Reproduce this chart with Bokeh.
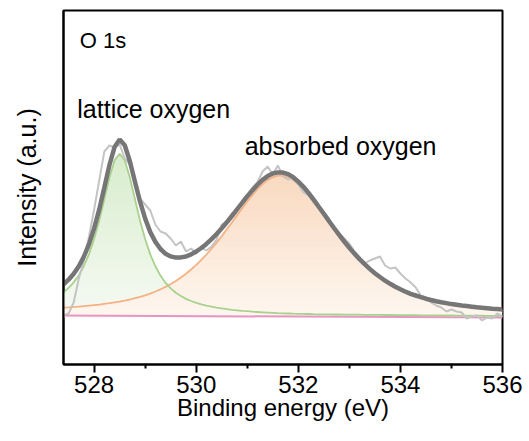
import numpy as np
from bokeh.plotting import figure
from bokeh.models import Range1d, FixedTicker, Label
from bokeh.embed import file_html
from bokeh.resources import INLINE

# ---------------- data ----------------
energy = [527.4, 527.5, 527.6, 527.7, 527.8, 527.9,
          528.0, 528.1, 528.2, 528.3, 528.4, 528.5, 528.6, 528.7, 528.8, 528.9,
          529.0, 529.1, 529.2, 529.3, 529.4, 529.5, 529.6, 529.7, 529.8, 529.9,
          530.0, 530.1, 530.2, 530.3, 530.4, 530.5, 530.6, 530.7, 530.8, 530.9,
          531.0, 531.1, 531.2, 531.3, 531.4, 531.5, 531.6, 531.7, 531.8, 531.9,
          532.0, 532.1, 532.2, 532.3, 532.4, 532.5, 532.6, 532.7, 532.8, 532.9,
          533.0, 533.1, 533.2, 533.3, 533.4, 533.5, 533.6, 533.7, 533.8, 533.9,
          534.0, 534.1, 534.2, 534.3, 534.4, 534.5, 534.6, 534.7, 534.8, 534.9,
          535.0, 535.1, 535.2, 535.3, 535.4, 535.5, 535.6, 535.7, 535.8, 535.9,
          536.0]

raw = [49, 51, 62, 86, 104, 128, 155, 184, 213, 219,
       217, 220, 206, 200, 186, 166, 160, 154, 140, 133,
       131, 126, 119, 123, 113, 116, 111, 117, 114, 118,
       125, 140, 143, 151, 153, 164, 170, 177, 182, 193,
       198, 190, 199, 188, 185, 186, 180, 172, 169, 162,
       158, 152, 146, 136, 131, 126, 121, 113, 107, 101,
       104, 106, 108, 99, 96, 97, 91, 86, 82, 77,
       69, 67, 62, 59, 57, 53, 55, 53, 52, 46,
       48, 49, 44, 47, 46, 51, 48]

fit = [80.2, 84.8, 90.7, 98.2, 108.0, 120.4, 136.1, 155.1, 177.1, 199.5,
       217.4, 224.9, 219.2, 203.2, 182.8, 162.8, 145.9, 132.4, 122.6, 115.5,
       110.7, 108.1, 106.9, 107.1, 108.0, 110.1, 113.0, 116.5, 120.6, 125.3,
       130.5, 136.2, 142.3, 148.5, 155.1, 161.6, 168.1, 174.1, 179.8, 184.6,
       188.4, 191.0, 192.1, 191.9, 190.4, 187.3, 182.9, 177.7, 171.6, 164.9,
       157.8, 150.7, 143.5, 136.5, 129.6, 123.0, 116.8, 110.9, 105.4, 100.3,
       95.6, 91.3, 87.5, 83.8, 80.7, 77.7, 75.2, 72.8, 70.7, 69.0,
       67.3, 65.8, 64.5, 63.3, 62.3, 61.4, 60.4, 59.7, 59.0, 58.4,
       57.8, 57.2, 56.7, 56.3, 55.8, 55.5, 55.1]

lattice = [72.3, 76.6, 82.1, 89.2, 98.5, 110.4, 125.6, 144.0, 165.3, 187.0,
           204.1, 210.7, 204.0, 186.9, 165.2, 143.8, 125.3, 110.1, 98.2, 88.9,
           81.6, 76.1, 71.8, 68.5, 65.6, 63.5, 61.7, 60.2, 58.9, 57.8,
           56.9, 56.1, 55.4, 54.7, 54.2, 53.7, 53.3, 52.8, 52.5, 52.2,
           51.9, 51.6, 51.3, 51.1, 51.0, 50.8, 50.7, 50.6, 50.5, 50.3,
           50.2, 50.1, 50.1, 50.0, 50.0, 49.9, 49.9, 49.8, 49.8, 49.7,
           49.7, 49.6, 49.6, 49.5, 49.5, 49.4, 49.4, 49.3, 49.3, 49.3,
           49.2, 49.2, 49.1, 49.1, 49.1, 49.0, 49.0, 48.9, 48.9, 48.9,
           48.8, 48.8, 48.8, 48.7, 48.7, 48.7, 48.6]

absorbed = [56.9, 57.2, 57.6, 57.9, 58.4, 58.9, 59.4, 59.9, 60.6, 61.3,
            62.1, 62.9, 63.9, 65.0, 66.3, 67.6, 69.2, 70.9, 73.0, 75.2,
            77.6, 80.5, 83.6, 87.1, 90.8, 95.0, 99.7, 104.7, 110.0, 115.8,
            121.9, 128.4, 135.2, 142.0, 149.1, 156.1, 163.0, 169.4, 175.4, 180.5,
            184.6, 187.4, 188.8, 188.8, 187.4, 184.5, 180.3, 175.2, 169.2, 162.7,
            155.7, 148.7, 141.6, 134.7, 127.8, 121.3, 115.2, 109.4, 103.9, 98.9,
            94.2, 90.0, 86.2, 82.6, 79.5, 76.6, 74.1, 71.8, 69.7, 68.0,
            66.4, 64.9, 63.6, 62.5, 61.5, 60.6, 59.7, 59.0, 58.3, 57.7,
            57.1, 56.6, 56.1, 55.7, 55.2, 54.9, 54.5]

baseline_x = [527.4, 536.0]
baseline_y = [49.0, 47.0]

x_major_ticks = [528, 530, 532, 534, 536]
x_minor_ticks = [529, 531, 533, 535]

FONT = "Liberation Sans"

# ---------------- figure ----------------
p = figure(width=529, height=441, output_backend="svg", toolbar_location=None,
           x_range=Range1d(527.4, 536.0), y_range=Range1d(0, 354),
           min_border_left=63, min_border_right=27, min_border_top=10,
           min_border_bottom=77)
p.grid.visible = False
p.background_fill_color = "white"
p.border_fill_color = "white"
p.outline_line_color = "black"
p.outline_line_width = 2

xs = np.array(energy, dtype=float)
absorbed_a = np.array(absorbed, dtype=float)
lattice_a = np.array(lattice, dtype=float)


def mix(c0, c1, t):
    return "#%02x%02x%02x" % tuple(int(round(a + (b - a) * t)) for a, b in zip(c0, c1))


def gradient_bands(ys, floor, c_bottom, c_top, base=47.0, n=28):
    top = ys.max()
    levels = np.linspace(base, top, n + 1)
    for k in range(n):
        col = mix(c_bottom, c_top, (k + 0.5) / n)
        hi = levels[k + 1] + (0.6 if k < n - 1 else 0.0)
        y1 = np.maximum(np.minimum(ys, levels[k]), floor)
        y2 = np.maximum(np.minimum(ys, hi), floor)
        p.varea(x=xs, y1=y1, y2=y2, fill_color=col, fill_alpha=1.0)


# orange (absorbed oxygen) gradient fill
gradient_bands(absorbed_a, np.zeros_like(xs), (254, 247, 240), (249, 217, 192))
# green (lattice oxygen) gradient fill, only where it is above the orange curve
gradient_bands(lattice_a, absorbed_a, (246, 250, 243), (216, 237, 205))

# component lines
p.line(baseline_x, baseline_y, line_color="#e795c3", line_width=2)
p.line(energy, absorbed, line_color="#f4b183", line_width=1.8)
p.line(energy, lattice, line_color="#a9d18e", line_width=1.8)
# raw data and envelope
p.line(energy, raw, line_color="#c4c4c4", line_width=2)
p.line(energy, fit, line_color="#767676", line_width=4.5)

# ---------------- axes ----------------
xa = p.xaxis[0]
xa.ticker = FixedTicker(ticks=x_major_ticks, minor_ticks=x_minor_ticks)
xa.axis_label = "Binding energy (eV)"
xa.axis_line_color = "black"
xa.axis_line_width = 2
xa.major_tick_in = 0
xa.major_tick_out = 8
xa.minor_tick_in = 0
xa.minor_tick_out = 4
xa.major_tick_line_width = 2
xa.minor_tick_line_width = 2
xa.major_tick_line_color = "black"
xa.minor_tick_line_color = "black"
xa.major_label_text_font = FONT
xa.major_label_text_font_size = "24px"
xa.major_label_text_color = "black"
xa.major_label_standoff = 3
xa.axis_label_text_font = FONT
xa.axis_label_text_font_size = "24px"
xa.axis_label_text_font_style = "normal"
xa.axis_label_text_color = "black"
xa.axis_label_standoff = -2

ya = p.yaxis[0]
ya.ticker = FixedTicker(ticks=[])
ya.axis_label = "Intensity (a.u.)"
ya.axis_line_color = "black"
ya.axis_line_width = 2
ya.major_tick_in = 0
ya.major_tick_out = 0
ya.minor_tick_in = 0
ya.minor_tick_out = 0
ya.major_label_standoff = 0
ya.axis_label_text_font = FONT
ya.axis_label_text_font_size = "25px"
ya.axis_label_text_font_style = "normal"
ya.axis_label_text_color = "black"
ya.axis_label_standoff = 23

# ---------------- annotations ----------------
p.add_layout(Label(x=527.72, y=324, text="O 1s", text_font=FONT,
                   text_font_size="22px", text_color="black",
                   text_baseline="alphabetic", text_align="left"))
p.add_layout(Label(x=527.67, y=256, text="lattice oxygen", text_font=FONT,
                   text_font_size="25px", text_color="black",
                   text_baseline="alphabetic", text_align="left"))
p.add_layout(Label(x=530.95, y=219, text="absorbed oxygen", text_font=FONT,
                   text_font_size="25px", text_color="black",
                   text_baseline="alphabetic", text_align="left"))

open("out.html", "w").write(file_html(p, INLINE))
